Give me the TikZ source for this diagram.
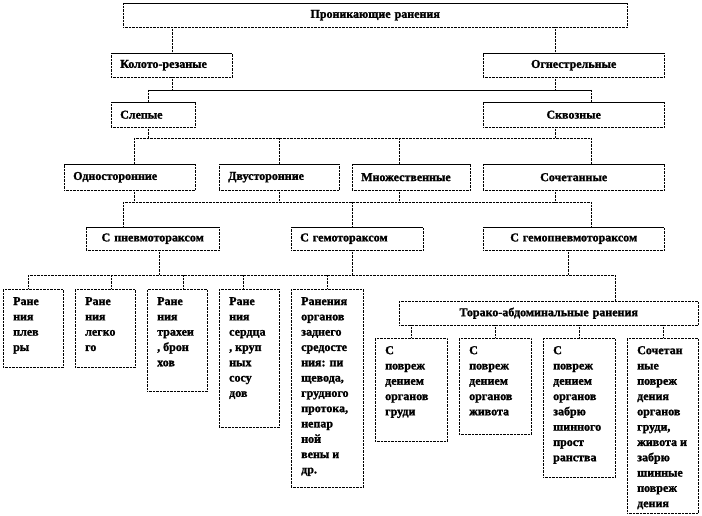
\documentclass[tikz,border=0pt]{standalone}
\usepackage{fontspec}
\setmainfont{Liberation Serif}[BoldFeatures={FakeBold=1.5}]

\begin{document}
\begin{tikzpicture}[x=1pt,y=-1pt,
  box/.style={draw,densely dotted,anchor=north west,inner xsep=9pt,inner ysep=0pt,
    font=\fontsize{12}{14}\selectfont\bfseries,
    append after command={(\tikzlastnode.north west) edge[solid] (\tikzlastnode.north east)}},
  leaf/.style={draw,densely dotted,anchor=north west,inner xsep=10pt,inner ysep=8pt,
    font=\fontsize{12}{15.3}\selectfont\bfseries},
  link/.style={densely dotted}]
\useasboundingbox (0,0) rectangle (702,516);

% levels
\node[box,text width=486pt,minimum height=24pt,align=center] (top) at (123,3) {Проникающие ранения};
\node[box,text width=103pt,minimum height=24pt,align=left] (kr) at (111,53) {Колото-резаные};
\node[box,text width=163pt,minimum height=24pt,align=center] (ogn) at (483,53) {Огнестрельные};
\node[box,text width=66pt,minimum height=25pt,align=left] (sl) at (111,102) {Слепые};
\node[box,text width=163pt,minimum height=25pt,align=center] (skv) at (483,102) {Сквозные};
\node[box,text width=113pt,minimum height=26pt,align=left] (odn) at (64,164) {Односторонние};
\node[box,text width=102pt,minimum height=26pt,align=left] (dvu) at (219,164) {Двусторонние};
\node[box,text width=100pt,minimum height=26pt,align=left] (mno) at (352,164) {Множественные};
\node[box,text width=163pt,minimum height=26pt,align=center] (soch) at (483,164) {Сочетанные};
\node[box,text width=115pt,minimum height=23pt,align=center] (pnev) at (86,227) {С пневмотораксом};
\node[box,text width=114pt,minimum height=23pt,align=left] (gem) at (291,227) {С гемотораксом};
\node[box,text width=163pt,minimum height=23pt,align=center] (gpn) at (483,227) {С гемопневмотораксом};

% leaves
\node[leaf] (l1) at (3,289) {\parbox[t][62pt][t]{40pt}{Ране\\ния\\плев\\ры}};
\node[leaf] (l2) at (75,289) {\parbox[t][62pt][t]{40pt}{Ране\\ния\\легко\\го}};
\node[leaf] (l3) at (147,289) {\parbox[t][86pt][t]{40pt}{Ране\\ния\\трахеи\\, брон\\хов}};
\node[leaf] (l4) at (219,289) {\parbox[t][122pt][t]{40pt}{Ране\\ния\\сердца\\, круп\\ных\\сосу\\дов}};
\node[leaf] (l5) at (291,289) {\parbox[t][182pt][t]{52pt}{Ранения\\органов\\заднего\\средосте\\ния: пи\\щевода,\\грудного\\протока,\\непар\\ной\\вены и\\др.}};
\node[leaf,inner xsep=9pt,inner ysep=0pt,text width=281pt,minimum height=24pt,align=center,
  font=\fontsize{12}{14}\selectfont\bfseries] (tor) at (399,301) {Торако-абдоминальные ранения};
\node[leaf] (t1) at (375,338) {\parbox[t][87pt][t]{52pt}{С\\повреж\\дением\\органов\\груди}};
\node[leaf] (t2) at (459,338) {\parbox[t][80pt][t]{52pt}{С\\повреж\\дением\\органов\\живота}};
\node[leaf] (t3) at (543,338) {\parbox[t][123pt][t]{52pt}{С\\повреж\\дением\\органов\\забрю\\шинного\\прост\\ранства}};
\node[leaf] (t4) at (627,338) {\parbox[t][159pt][t]{51pt}{Сочетан\\ные\\повреж\\дения\\органов\\груди,\\живота и\\забрю\\шинные\\повреж\\дения}};

% top -> level 2
\draw[link] (top.south -| kr.north) -- (kr.north);
\draw[link] ([xshift=-18.5pt]ogn.north |- top.south) -- ([xshift=-18.5pt]ogn.north);

% level 2 -> level 3
\coordinate (b2) at (0,90);
\draw[link] (kr.south) -- (kr.south |- b2);
\draw[link] ([xshift=-18.5pt]ogn.south) -- ([xshift=-18.5pt]ogn.south |- b2);
\draw ([xshift=-5pt]sl.north |- b2) -- ([xshift=17.5pt]skv.north |- b2);
\draw[link] ([xshift=-5pt]sl.north |- b2) -- ([xshift=-5pt]sl.north);
\draw[link] ([xshift=17.5pt]skv.north |- b2) -- ([xshift=17.5pt]skv.north);

% level 3 -> level 4
\coordinate (b3) at (0,138);
\draw[link] ([xshift=-5pt]sl.south) -- ([xshift=-5pt]sl.south |- b3);
\draw[link] ([xshift=-18.5pt]skv.south) -- ([xshift=-18.5pt]skv.south |- b3);
\draw[link] ([xshift=4.5pt]odn.north |- b3) -- ([xshift=17.5pt]soch.north |- b3);
\draw[link] ([xshift=4.5pt]odn.north |- b3) -- ([xshift=4.5pt]odn.north);
\draw[link] (dvu.north |- b3) -- (dvu.north);
\draw[link] ([xshift=-12pt]mno.north |- b3) -- ([xshift=-12pt]mno.north);
\draw[link] ([xshift=17.5pt]soch.north |- b3) -- ([xshift=17.5pt]soch.north);

% level 4 -> level 5
\coordinate (b4) at (0,202);
\draw[link] ([xshift=4.5pt]odn.south) -- ([xshift=4.5pt]odn.south |- b4);
\draw[link] (dvu.south) -- (dvu.south |- b4);
\draw[link] ([xshift=-12pt]mno.south) -- ([xshift=-12pt]mno.south |- b4);
\draw[link] ([xshift=-18.5pt]soch.south) -- ([xshift=-18.5pt]soch.south |- b4);
\draw[link] ([xshift=-29.5pt]pnev.north |- b4) -- ([xshift=17.5pt]gpn.north |- b4);
\draw[link] ([xshift=-29.5pt]pnev.north |- b4) -- ([xshift=-29.5pt]pnev.north);
\draw[link] ([xshift=-5pt]gem.north |- b4) -- ([xshift=-5pt]gem.north);
\draw[link] ([xshift=17.5pt]gpn.north |- b4) -- ([xshift=17.5pt]gpn.north);

% level 5 -> leaves
\coordinate (b5) at (0,275);
\draw[link] ([xshift=6.5pt]pnev.south) -- ([xshift=6.5pt]pnev.south |- b5);
\draw[link] ([xshift=-5pt]gem.south) -- ([xshift=-5pt]gem.south |- b5);
\draw[link] ([xshift=-5.5pt]gpn.south) -- ([xshift=-5.5pt]gpn.south |- b5);
\draw[link] ([xshift=-5pt]l1.north |- b5) -- ([xshift=66.5pt]tor.north |- b5);
\draw[link] ([xshift=-5pt]l1.north |- b5) -- ([xshift=-5pt]l1.north);
\draw[link] ([xshift=6pt]l2.north |- b5) -- ([xshift=6pt]l2.north);
\draw[link] ([xshift=6pt]l3.north |- b5) -- ([xshift=6pt]l3.north);
\draw[link] ([xshift=-6pt]l4.north |- b5) -- ([xshift=-6pt]l4.north);
\draw[link] (l5.north |- b5) -- (l5.north);
\draw[link] ([xshift=66.5pt]tor.north |- b5) -- ([xshift=66.5pt]tor.north);

% torako -> sub leaves
\draw[link] (t1.north |- tor.south) -- (t1.north);
\draw[link] (t2.north |- tor.south) -- (t2.north);
\draw[link] (t3.north |- tor.south) -- (t3.north);
\draw[link] (t4.north |- tor.south) -- (t4.north);
\end{tikzpicture}
\end{document}
